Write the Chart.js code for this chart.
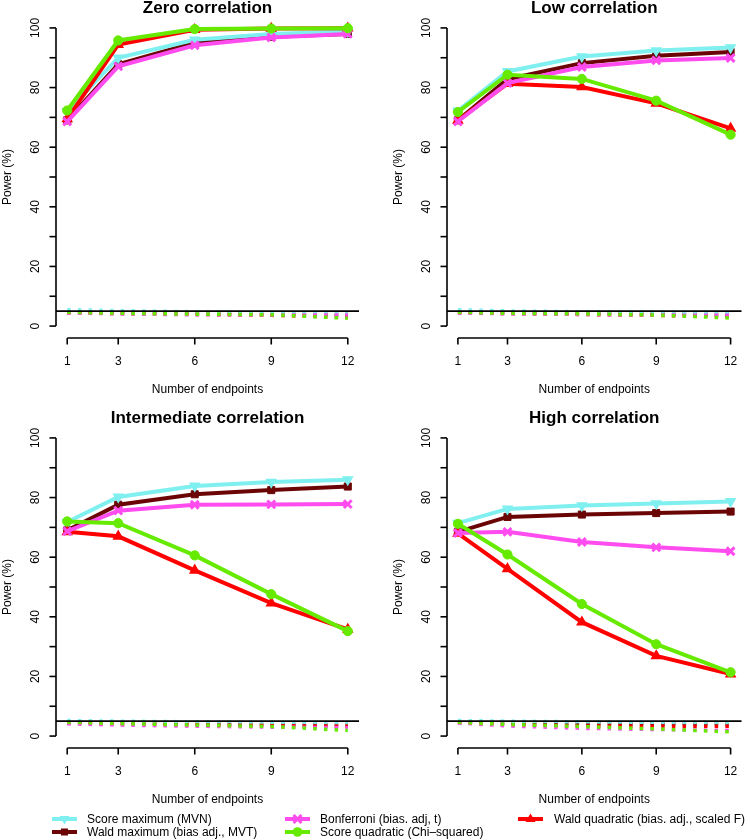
<!DOCTYPE html>
<html>
<head>
<meta charset="utf-8">
<script src="https://cdn.jsdelivr.net/npm/chart.js@4.4.1/dist/chart.umd.min.js"></script>
<style>
    html, body { margin: 0; padding: 0; background: #fff; }
    #wrap { position: relative; width: 750px; height: 840px; overflow: hidden; font-family: "Liberation Sans", Arial, sans-serif; }
    #wrap canvas { position: absolute; }
    .legMark { position: absolute; width: 25px; height: 14px; }
    .legText { position: absolute; font-size: 12px; line-height: 14px; color: #000; white-space: nowrap; }
</style>
</head>
<body>
<div id="wrap">
    <canvas id="panel0" width="375" height="420" style="left:0;top:0"></canvas>
    <canvas id="panel1" width="375" height="420" style="left:375px;top:0"></canvas>
    <canvas id="panel2" width="375" height="440" style="left:0;top:400px"></canvas>
    <canvas id="panel3" width="375" height="440" style="left:375px;top:400px"></canvas>
    <div id="legend"></div>
</div>
<script>
// x values and axis ticks
const endpoints = [1, 3, 6, 9, 12];
const yTicks = [0, 10, 20, 30, 40, 50, 60, 70, 80, 90, 100];
const yLabels = [0, 20, 40, 60, 80, 100];
const referenceLevel = 5;

const panelTitles = ['Zero correlation', 'Low correlation', 'Intermediate correlation', 'High correlation'];
const methodNames = [
    'Score maximum (MVN)',
    'Wald maximum (bias adj., MVT)',
    'Bonferroni (bias. adj, t)',
    'Score quadratic (Chi\u2013squared)',
    'Wald quadratic (bias. adj., scaled F)'
];
const methodColors = ['#7FEFEF', '#6B0505', '#FF4CEE', '#66EA00', '#FF0000'];

// power (%) per method, in the order of methodNames
const powerZero = [
    [72.0, 90.0, 96.0, 98.0, 98.8],
    [69.0, 87.8, 95.0, 97.0, 98.0],
    [68.6, 87.1, 94.2, 96.8, 98.0],
    [72.3, 95.8, 99.6, 99.8, 99.9],
    [69.5, 94.4, 99.4, 99.8, 99.9]
];
const powerLow = [
    [72.2, 85.4, 90.4, 92.4, 93.4],
    [69.0, 82.8, 88.2, 90.7, 91.9],
    [68.6, 81.5, 86.9, 89.1, 89.9],
    [71.8, 84.3, 82.9, 75.6, 64.2],
    [69.0, 81.3, 80.2, 74.7, 66.3]
];
const powerMid = [
    [71.8, 80.2, 83.9, 85.2, 86.0],
    [69.0, 77.6, 81.1, 82.5, 83.7],
    [68.7, 75.6, 77.6, 77.7, 77.8],
    [72.0, 71.4, 60.6, 47.6, 35.2],
    [68.5, 67.0, 55.6, 44.6, 35.8]
];
const powerHigh = [
    [71.4, 76.2, 77.3, 78.0, 78.7],
    [68.5, 73.5, 74.3, 74.8, 75.3],
    [68.1, 68.5, 65.1, 63.3, 62.0],
    [71.2, 60.9, 44.3, 30.8, 21.4],
    [68.0, 56.1, 38.2, 26.9, 20.8]
];

// type I error (%) per method, dotted lines
const errorZero = [
    [5.5, 5.2, 4.8, 4.6, 4.5],
    [4.8, 4.5, 4.2, 4.0, 4.0],
    [4.4, 4.1, 3.8, 3.7, 3.7],
    [4.6, 4.3, 4.0, 3.8, 2.6],
    [4.5, 4.2, 3.9, 3.6, 3.0]
];
const errorLow = [
    [5.5, 5.1, 4.8, 4.7, 4.6],
    [4.8, 4.5, 4.3, 4.1, 4.0],
    [4.4, 4.1, 3.9, 3.7, 3.6],
    [4.6, 4.3, 4.1, 3.7, 2.7],
    [4.5, 4.2, 3.9, 3.6, 3.1]
];
const errorMid = [
    [5.2, 5.0, 4.8, 4.6, 4.4],
    [4.7, 4.4, 4.1, 3.9, 3.8],
    [4.1, 3.7, 3.3, 3.0, 2.8],
    [4.6, 4.2, 3.7, 3.2, 1.9],
    [4.4, 4.0, 3.7, 3.5, 3.3]
];
const errorHigh = [
    [5.2, 5.0, 4.8, 4.6, 4.5],
    [4.7, 4.4, 4.2, 4.1, 4.0],
    [4.4, 3.4, 2.6, 2.2, 1.9],
    [4.6, 3.9, 3.2, 2.4, 1.4],
    [4.5, 3.8, 3.4, 3.3, 3.3]
];

const panelPower = [powerZero, powerLow, powerMid, powerHigh];
const panelError = [errorZero, errorLow, errorMid, errorHigh];

// marker per method
const pointStyles = ['triangle', 'rect', 'crossRot', 'circle', 'triangle'];
const pointRotations = [180, 0, 0, 0, 0];
const pointRadii = [5.2, 5, 5.5, 4.6, 5.2];
const pointBorders = [1.5, 1, 3, 1, 1.5];
const drawOrder = [3, 4, 1, 0, 2]; // lower = drawn on top

const FONT = '"Liberation Sans", Arial, sans-serif';

// R-like axes, title and reference line
const rStyleAxes = {
    id: 'rStyleAxes',
    afterDatasetsDraw(chart) {
        const { ctx, chartArea: a, scales: { x, y } } = chart;
        const title = chart.options.plugins.rStyleAxes.title;
        const seg = (x1, y1, x2, y2) => {
            ctx.beginPath();
            ctx.moveTo(x1, y1);
            ctx.lineTo(x2, y2);
            ctx.stroke();
        };
        ctx.save();
        ctx.strokeStyle = '#000';
        ctx.fillStyle = '#000';
        ctx.lineWidth = 1.6;

        // nominal level
        const yr = y.getPixelForValue(referenceLevel);
        seg(a.left, yr, a.right, yr);

        // y axis
        seg(a.left, y.getPixelForValue(yTicks[0]), a.left, y.getPixelForValue(yTicks[yTicks.length - 1]));
        yTicks.forEach(v => {
            const py = y.getPixelForValue(v);
            seg(a.left - 6.5, py, a.left, py);
        });
        ctx.font = '12px ' + FONT;
        ctx.textAlign = 'center';
        ctx.textBaseline = 'alphabetic';
        yLabels.forEach(v => {
            ctx.save();
            ctx.translate(a.left - 17, y.getPixelForValue(v));
            ctx.rotate(-Math.PI / 2);
            ctx.fillText(String(v), 0, 0);
            ctx.restore();
        });
        ctx.save();
        ctx.translate(a.left - 45, (a.top + a.bottom) / 2);
        ctx.rotate(-Math.PI / 2);
        ctx.fillText('Power (%)', 0, 0);
        ctx.restore();

        // x axis
        seg(x.getPixelForValue(endpoints[0]), a.bottom, x.getPixelForValue(endpoints[endpoints.length - 1]), a.bottom);
        endpoints.forEach(v => {
            const px = x.getPixelForValue(v);
            seg(px, a.bottom, px, a.bottom + 6.5);
            ctx.fillText(String(v), px, a.bottom + 27);
        });
        ctx.fillText('Number of endpoints', (a.left + a.right) / 2, a.bottom + 55);

        // main title
        ctx.font = 'bold 17px ' + FONT;
        ctx.fillText(title, (a.left + a.right) / 2, a.top - 3.5);
        ctx.restore();
    }
};

function createPanel(index, padding) {
    const power = panelPower[index];
    const error = panelError[index];
    const datasets = [];

    methodNames.forEach((name, i) => {
        datasets.push({
            label: name,
            data: endpoints.map((e, j) => ({ x: e, y: power[i][j] })),
            borderColor: methodColors[i],
            backgroundColor: methodColors[i],
            borderWidth: 4,
            pointStyle: pointStyles[i],
            rotation: pointRotations[i],
            pointRadius: pointRadii[i],
            pointBorderWidth: pointBorders[i],
            pointBackgroundColor: methodColors[i],
            pointBorderColor: methodColors[i],
            tension: 0,
            order: drawOrder[i]
        });
    });

    methodNames.forEach((name, i) => {
        datasets.push({
            label: name + ' (type I error)',
            data: endpoints.map((e, j) => ({ x: e, y: error[i][j] })),
            borderColor: methodColors[i],
            borderWidth: 3.5,
            borderDash: [3.5, 7.2],
            borderCapStyle: 'butt',
            pointRadius: 0,
            tension: 0,
            order: 10 + drawOrder[i]
        });
    });

    new Chart(document.getElementById('panel' + index), {
        type: 'line',
        data: { datasets },
        options: {
            responsive: false,
            animation: false,
            devicePixelRatio: 1,
            layout: { padding },
            plugins: {
                legend: { display: false },
                tooltip: { enabled: false },
                rStyleAxes: { title: panelTitles[index] }
            },
            scales: {
                x: { type: 'linear', display: false, min: 0.56, max: 12.44 },
                y: { type: 'linear', display: false, min: -4, max: 104 }
            }
        },
        plugins: [rStyleAxes]
    });
}

createPanel(0, { left: 56, right: 16, top: 16, bottom: 82 });
createPanel(1, { left: 72, right: 1, top: 16, bottom: 82 });
createPanel(2, { left: 56, right: 16, top: 26, bottom: 92 });
createPanel(3, { left: 72, right: 1, top: 26, bottom: 92 });

// legend below the panels
function markerSvg(i) {
    const c = methodColors[i];
    let shape = '';
    if (i === 0) shape = `<polygon points="12.5,12.5 7.5,4 17.5,4" fill="${c}"/>`;
    if (i === 1) shape = `<rect x="9" y="3.5" width="7" height="7" fill="${c}"/>`;
    if (i === 2) shape = `<path d="M8.5,3 L16.5,11 M16.5,3 L8.5,11" stroke="${c}" stroke-width="3"/>`;
    if (i === 3) shape = `<circle cx="12.5" cy="7" r="4.8" fill="${c}"/>`;
    if (i === 4) shape = `<polygon points="12.5,1.5 7.5,10 17.5,10" fill="${c}"/>`;
    return `<svg width="25" height="14" viewBox="0 0 25 14"><line x1="0" y1="7" x2="25" y2="7" stroke="${c}" stroke-width="4"/>${shape}</svg>`;
}

const legendCols = [[0, 1], [2, 3], [4]];
const legendMarkX = [52, 285, 518];
const legendTextX = [87, 320, 554];
const legendRowY = [811.5, 825];
let legendHtml = '';
legendCols.forEach((col, c) => {
    col.forEach((m, r) => {
        legendHtml += `<div class="legMark" style="left:${legendMarkX[c]}px;top:${legendRowY[r]}px">${markerSvg(m)}</div>`;
        legendHtml += `<div class="legText" style="left:${legendTextX[c]}px;top:${legendRowY[r]}px">${methodNames[m]}</div>`;
    });
});
document.getElementById('legend').innerHTML = legendHtml;
</script>
</body>
</html>
